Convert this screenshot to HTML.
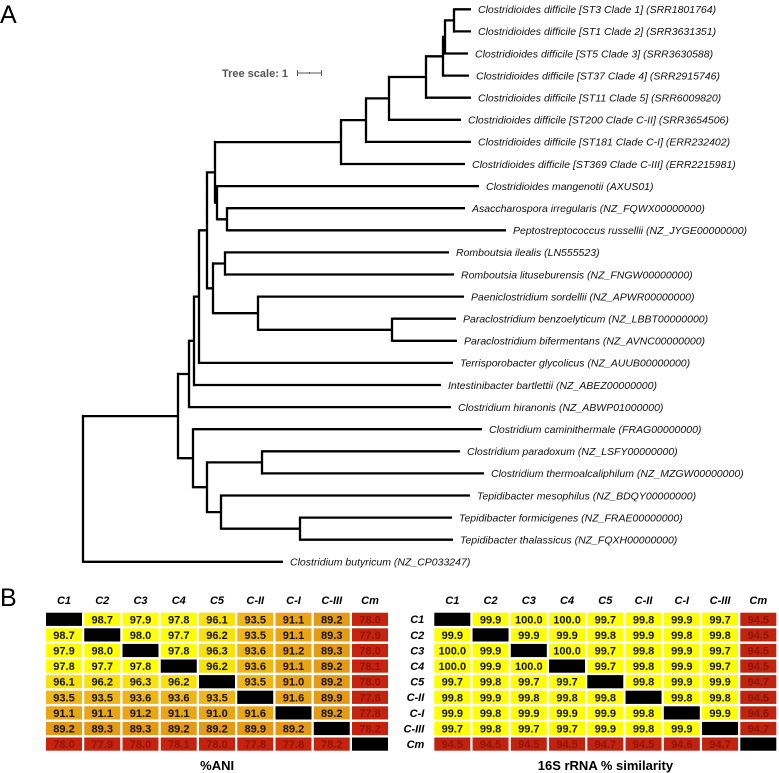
<!DOCTYPE html>
<html><head><meta charset="utf-8">
<style>
html,body{margin:0;padding:0;background:#fff;}
svg{display:block;font-family:"Liberation Sans",Arial,sans-serif;}
</style></head>
<body>
<svg id="fig" width="779" height="773" viewBox="0 0 779 773" xmlns="http://www.w3.org/2000/svg">
<text x="0" y="23" font-size="25">A</text>
<text x="0" y="606" font-size="25">B</text>
<g>
<text x="222" y="77" font-size="11" font-weight="bold" fill="#555">Tree scale: 1</text>
<path d="M297.5 73 H321.5 M297.5 70 V76 M321.5 70 V76 M309.5 72 V74" stroke="#555" stroke-width="1" fill="none"/>
</g>
<g id="tree"></g>
<g id="hm1"></g>
<g id="hm2"></g>
</svg>
<script>
const leafNames = [
"Clostridioides difficile [ST3 Clade 1] (SRR1801764)",
"Clostridioides difficile [ST1 Clade 2] (SRR3631351)",
"Clostridioides difficile [ST5 Clade 3] (SRR3630588)",
"Clostridioides difficile [ST37 Clade 4] (SRR2915746)",
"Clostridioides difficile [ST11 Clade 5] (SRR6009820)",
"Clostridioides difficile [ST200 Clade C-II] (SRR3654506)",
"Clostridioides difficile [ST181 Clade C-I] (ERR232402)",
"Clostridioides difficile [ST369 Clade C-III] (ERR2215981)",
"Clostridioides mangenotii (AXUS01)",
"Asaccharospora irregularis (NZ_FQWX00000000)",
"Peptostreptococcus russellii (NZ_JYGE00000000)",
"Romboutsia ilealis (LN555523)",
"Romboutsia lituseburensis (NZ_FNGW00000000)",
"Paeniclostridium sordellii (NZ_APWR00000000)",
"Paraclostridium benzoelyticum (NZ_LBBT00000000)",
"Paraclostridium bifermentans (NZ_AVNC00000000)",
"Terrisporobacter glycolicus (NZ_AUUB00000000)",
"Intestinibacter bartlettii (NZ_ABEZ00000000)",
"Clostridium hiranonis (NZ_ABWP01000000)",
"Clostridium caminithermale (FRAG00000000)",
"Clostridium paradoxum (NZ_LSFY00000000)",
"Clostridium thermoalcaliphilum (NZ_MZGW00000000)",
"Tepidibacter mesophilus (NZ_BDQY00000000)",
"Tepidibacter formicigenes (NZ_FRAE00000000)",
"Tepidibacter thalassicus (NZ_FQXH00000000)",
"Clostridium butyricum (NZ_CP033247)"];
const leafTips = [471,471,468,469,471,461,471,465,479,465,506,449,454,464,456,457,453,441,451,482,460,484,470,452,453,283];
const NS="http://www.w3.org/2000/svg";
function N(x,c){return {x:x,c:c};}
const treeRoot =
N(83,[
  N(178,[
    N(189,[
      N(194,[
        N(199,[
          N(207,[
            N(215,[
              N(341,[N(366,[N(389,[N(426,[N(443,[N(445,[N(454,[0,1]),2]),3]),4]),5]),6]),7]),
              N(217,[8,N(227,[9,10])])
            ]),
            N(213,[N(225,[11,12]),N(258,[13,N(392,[14,15])])])
          ]),16]),17]),18]),
    N(193,[19,N(207,[N(262,[20,21]),N(221,[22,N(300,[23,24])])])])
  ]),25]);
const leafY=i=>9.3+22.1*i;
const tree=document.getElementById('tree');
let d="";
function layout(n){
  if(typeof n==="number") return {x:leafTips[n],y:leafY(n)};
  const ys=n.c.map(ch=>{const r=layout(ch);d+=`M${n.x} ${r.y.toFixed(1)}H${r.x}`;return r.y;});
  const y0=ys[0],y1=ys[ys.length-1];
  d+=`M${n.x} ${(y0-1.15).toFixed(1)}V${(y1+1.15).toFixed(1)}`;
  return {x:n.x,y:(y0+y1)/2};
}
const rr=layout(treeRoot);
const p=document.createElementNS(NS,'path');
p.setAttribute('d',d);p.setAttribute('stroke','#000');p.setAttribute('stroke-width','2.3');p.setAttribute('fill','none');


tree.appendChild(p);
leafNames.forEach((nm,i)=>{
  const t=document.createElementNS(NS,'text');
  t.setAttribute('x',leafTips[i]+7);t.setAttribute('y',leafY(i)+3.8);
  t.setAttribute('font-size','10.5');t.setAttribute('font-style','italic');t.setAttribute('fill','#111');
  t.textContent=nm;
  
  
  tree.appendChild(t);
});

const clades=["C1","C2","C3","C4","C5","C-II","C-I","C-III","Cm"];
const aniValues=[
[null,98.7,97.9,97.8,96.1,93.5,91.1,89.2,78.0],
[98.7,null,98.0,97.7,96.2,93.5,91.1,89.3,77.9],
[97.9,98.0,null,97.8,96.3,93.6,91.2,89.3,78.0],
[97.8,97.7,97.8,null,96.2,93.6,91.1,89.2,78.1],
[96.1,96.2,96.3,96.2,null,93.5,91.0,89.2,78.0],
[93.5,93.5,93.6,93.6,93.5,null,91.6,89.9,77.8],
[91.1,91.1,91.2,91.1,91.0,91.6,null,89.2,77.8],
[89.2,89.3,89.3,89.2,89.2,89.9,89.2,null,78.2],
[78.0,77.9,78.0,78.1,78.0,77.8,77.8,78.2,null]];
const rrnaValues=[
[null,99.9,100.0,100.0,99.7,99.8,99.9,99.7,94.5],
[99.9,null,99.9,99.9,99.8,99.9,99.8,99.8,94.5],
[100.0,99.9,null,100.0,99.7,99.8,99.9,99.7,94.5],
[100.0,99.9,100.0,null,99.7,99.8,99.9,99.7,94.5],
[99.7,99.8,99.7,99.7,null,99.8,99.9,99.9,94.7],
[99.8,99.9,99.8,99.8,99.8,null,99.8,99.8,94.5],
[99.9,99.8,99.9,99.9,99.9,99.8,null,99.9,94.6],
[99.7,99.8,99.7,99.7,99.9,99.8,99.9,null,94.7],
[94.5,94.5,94.5,94.5,94.7,94.5,94.6,94.7,null]];
function colAni(v){
  if(v>=97.5)return["#ffff00","#111"];
  if(v>=95.5)return["#f8e20a","#111"];
  if(v>=93)return["#efb616","#111"];
  if(v>=90.5)return["#eaa514","#111"];
  if(v>=85)return["#e39a16","#111"];
  return["#c6230f","#8e1508"];
}
function colRrna(v){
  if(v>=99)return["#ffff00","#111"];
  return["#c0230f","#8e1508"];
}
function heat(gid,x0,vals,colf,title,rowLabels){
  const g=document.getElementById(gid);
  const step=38.25,cw=36,y0=612.7,rs=15.6,ch=13.2;
  const cx=j=>x0+j*step, cy=i=>y0+i*rs;
  clades.forEach((c,j)=>{
    const t=document.createElementNS(NS,'text');
    t.setAttribute('x',cx(j)+cw/2);t.setAttribute('y',604);t.setAttribute('text-anchor','middle');
    t.setAttribute('font-size','11');t.setAttribute('font-weight','bold');t.setAttribute('font-style','italic');
    t.textContent=c;
    
    
    g.appendChild(t);
    if(rowLabels){
      const r=document.createElementNS(NS,'text');
      r.setAttribute('x',x0-10);r.setAttribute('y',cy(j)+10.5);r.setAttribute('text-anchor','end');
      r.setAttribute('font-size','11');r.setAttribute('font-weight','bold');r.setAttribute('font-style','italic');
      r.textContent=c;
      
      
      g.appendChild(r);
    }
  });
  vals.forEach((row,i)=>row.forEach((v,j)=>{
    const rc=document.createElementNS(NS,'rect');
    rc.setAttribute('x',cx(j));rc.setAttribute('y',cy(i));rc.setAttribute('width',cw);rc.setAttribute('height',ch);
    const c=v===null?["#000","#000"]:colf(v);
    rc.setAttribute('fill',c[0]);
    
    
    g.appendChild(rc);
    if(v!==null){
      const t=document.createElementNS(NS,'text');
      t.setAttribute('x',cx(j)+cw/2);t.setAttribute('y',cy(i)+10.6);t.setAttribute('text-anchor','middle');
      t.setAttribute('font-size','11');t.setAttribute('font-weight','bold');t.setAttribute('fill',c[1]);
      t.textContent=v.toFixed(1);
      
      
      g.appendChild(t);
    }
  }));
  const tt=document.createElementNS(NS,'text');
  tt.setAttribute('x',x0+4.5*step-1);tt.setAttribute('y',770);tt.setAttribute('text-anchor','middle');
  tt.setAttribute('font-size','13');tt.setAttribute('font-weight','bold');
  tt.textContent=title;
  
  
  g.appendChild(tt);
}
heat('hm1',46,aniValues,colAni,"%ANI",false);
heat('hm2',434.3,rrnaValues,colRrna,"16S rRNA % similarity",true);
</script>
</body></html>
